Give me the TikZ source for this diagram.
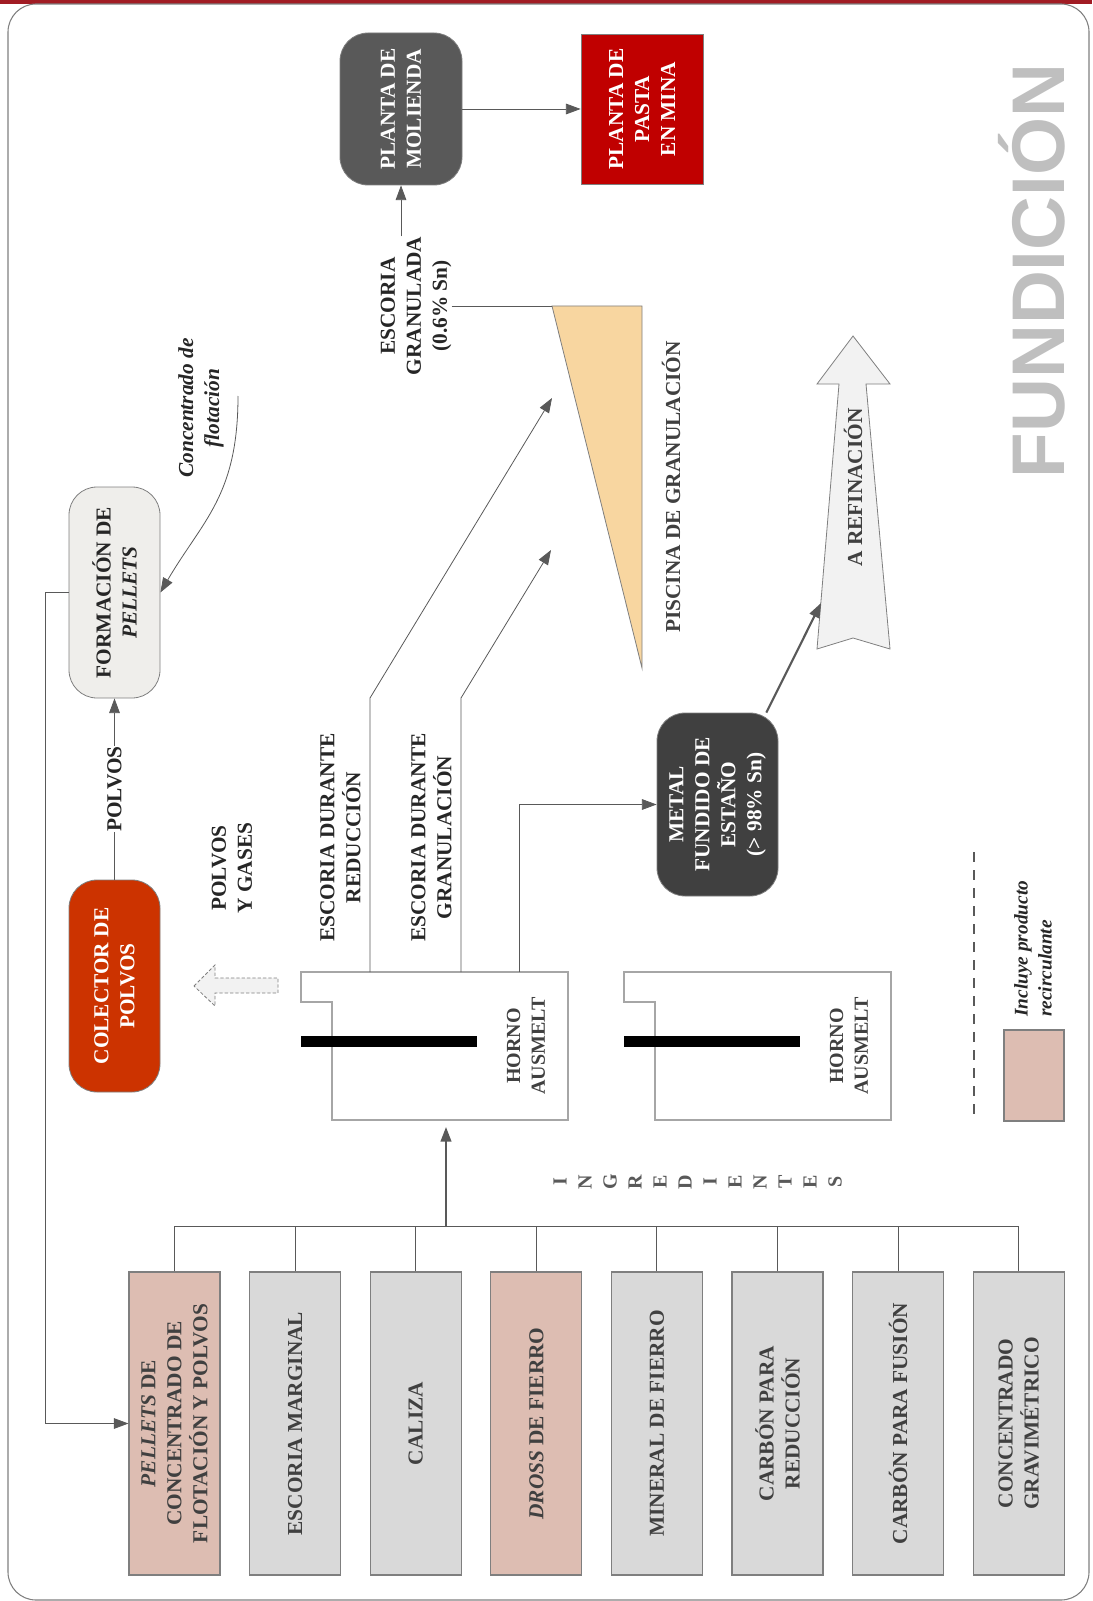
\documentclass[tikz,border=0pt]{standalone}
\usepackage{fontspec}
\setmainfont{Liberation Serif}
\newfontfamily\titlefont{Liberation Sans}
\usepackage{tikz}
\usetikzlibrary{arrows.meta}

\definecolor{linegray}{HTML}{595959}
\definecolor{boxgray}{HTML}{7F7F7F}
\definecolor{bandred}{HTML}{A11C24}
\definecolor{molgray}{HTML}{595959}
\definecolor{pastared}{HTML}{C00000}
\definecolor{metalgray}{HTML}{404040}
\definecolor{colectorred}{HTML}{CC3300}
\definecolor{pelletfill}{HTML}{EFEEEB}
\definecolor{poolfill}{HTML}{F8D6A0}
\definecolor{refinfill}{HTML}{F2F2F2}
\definecolor{recpink}{HTML}{DDBDB2}
\definecolor{inggray}{HTML}{D9D9D9}
\definecolor{txtgray}{HTML}{404040}
\definecolor{txtdark}{HTML}{262626}
\definecolor{titlegray}{HTML}{BFBFBF}
\definecolor{hornogray}{HTML}{A6A6A6}

\tikzset{
  txt/.style={font=\fontsize{16}{19.5}\selectfont\bfseries, rotate=90, align=center, inner sep=0pt, text=txtdark},
  procbox/.style={txt, draw=boxgray, line width=0.6pt, rounded corners=21pt, text=white},
  ingbox/.style={txt, draw=boxgray, line width=0.8pt, text=txtgray, minimum width=227.25pt, minimum height=68.25pt},
  arr/.style={draw=linegray, line width=0.6pt, -{Triangle[length=11pt,width=8pt]}},
  bigarr/.style={arr, line width=1.6pt}
}

\begin{document}
\begin{tikzpicture}[x=0.75pt,y=-0.75pt]
\useasboundingbox (0,0) rectangle (1092,1601);
\fill[bandred] (0,0) rectangle (1092,4);
\draw[boxgray, line width=0.8pt, rounded corners=21pt] (8,4) rectangle (1089,1600);

% title
\node[rotate=90, anchor=base, inner sep=0pt, text=titlegray, font=\titlefont\bfseries\fontsize{56}{60}\selectfont] (titulo) at (1064,271) {FUNDICIÓN};

% process boxes
\node[procbox, fill=molgray, minimum width=114pt, minimum height=91.5pt] (molienda) at (401,109) {PLANTA DE\\MOLIENDA};
\node[procbox, fill=pastared, rounded corners=0pt, minimum width=112.5pt, minimum height=91.5pt] (pasta) at (642,109) {PLANTA DE\\PASTA\\EN MINA};
\node[procbox, fill=pelletfill, text=txtdark, minimum width=158.25pt, minimum height=68.25pt] (formacion) at (114.5,592.5) {FORMACIÓN DE\\\textit{PELLETS}};
\node[procbox, fill=colectorred, minimum width=159pt, minimum height=68.25pt] (colector) at (114.5,986) {COLECTOR DE\\POLVOS};
\node[procbox, fill=metalgray, minimum width=137.25pt, minimum height=90.75pt] (metal) at (717.5,804.5) {METAL\\FUNDIDO DE\\ESTAÑO\\(> 98\% Sn)};

% labels
\node[txt] (granulada) at (416,306) {ESCORIA\\GRANULADA\\(0.6\% Sn)};
\node[txt, font=\fontsize{16}{19.5}\selectfont\bfseries\itshape] (flotlbl) at (201,408) {Concentrado de\\flotación};
\node[txt] (gases) at (232,868) {POLVOS\\Y GASES};
\node[txt] (escred) at (340.5,837.5) {ESCORIA DURANTE\\REDUCCIÓN};
\node[txt] (escgran) at (431.5,837.5) {ESCORIA DURANTE\\GRANULACIÓN};
\node[txt, text=txtgray] (piscina) at (671,487) {PISCINA DE GRANULACIÓN};

% granulation pool
\coordinate (poolA) at (552,306);
\filldraw[fill=poolfill, draw=boxgray, line width=0.6pt] (poolA) -- (642,306) -- (642,668) -- cycle;

% to refining
\filldraw[fill=refinfill, draw=boxgray, line width=0.6pt] (853,336) -- (890,384) -- (866,384) -- (890,649) -- (853,638) -- (817,649) -- (839,384) -- (817,384) -- cycle;
\node[txt, text=txtgray] (refinacion) at (853,487.5) {A REFINACIÓN};
\coordinate (refIn) at (821,603);

% furnaces
\foreach \dx/\nm in {0/hornoA,323/hornoB}{
  \draw[hornogray, line width=0.8pt] (301+\dx,972) -- (568+\dx,972) -- (568+\dx,1120) -- (332+\dx,1120) -- (332+\dx,1002) -- (301+\dx,1002) -- cycle;
  \fill[black] (301+\dx,1036) rectangle (477+\dx,1047);
  \node[txt, text=txtgray, font=\fontsize{15}{18.5}\selectfont\bfseries] (\nm) at (526+\dx,1046) {HORNO\\AUSMELT};
}

% gases to collector
\filldraw[fill=refinfill, draw=boxgray, line width=0.6pt, dash pattern=on 2.5pt off 1.5pt] (194,986) -- (215,965) -- (215,978) -- (278,978) -- (278,993) -- (215,993) -- (215,1006) -- cycle;

% ingredients
\foreach \i/\txt/\clr in {1/{\textit{PELLETS} DE\\CONCENTRADO DE\\FLOTACIÓN Y POLVOS}/recpink,
    2/{ESCORIA MARGINAL}/inggray, 3/{CALIZA}/inggray, 4/{\textit{DROSS} DE FIERRO}/recpink,
    5/{MINERAL DE FIERRO}/inggray, 6/{CARBÓN PARA\\REDUCCIÓN}/inggray,
    7/{CARBÓN PARA FUSIÓN}/inggray, 8/{CONCENTRADO\\GRAVIMÉTRICO}/inggray}
  \node[ingbox, fill=\clr] (ing\i) at ({174.5+120.6*(\i-1)},1423.5) {\txt};

\foreach \l [count=\k from 0] in {I,N,G,R,E,D,I,E,N,T,E,S}
  \node[txt, text=linegray, font=\fontsize{15}{18}\selectfont\bfseries] (letra\k) at ({560+25*\k},1182) {\l};

% legend
\draw[linegray, line width=0.8pt, dash pattern=on 7.5pt off 6pt] (974,852) -- (974,1122);
\node[draw=boxgray, line width=0.8pt, fill=recpink, minimum width=45pt, minimum height=68.25pt, inner sep=0pt] (leyenda) at (1034,1075.5) {};
\node[txt, anchor=west, align=left, font=\fontsize{14.5}{18}\selectfont\bfseries\itshape] (leyendatxt) at (1033,1017) {Incluye producto\\recirculante};

% connectors
\coordinate (flot) at (238,396);
\coordinate (redOut) at (370,972);
\coordinate (granOut) at (461,972);
\coordinate (metOut) at (519,972);
\coordinate (redTip) at (552,398);
\coordinate (granTip) at (551,550);
\coordinate (ingBus) at (446,1227);
\coordinate (hornoIn) at (446,1127);

\draw[arr] (molienda.south) -- (pasta.north);
\draw[arr] (granulada.east -| molienda.west) -- (molienda.west);
\draw[linegray, line width=0.6pt] (granulada.south) -- (poolA);
\draw[arr] (flot) .. controls +(0,100) and +(42,-72) .. (formacion.south);
\draw[arr] (colector.east) -- node[txt, fill=white, inner ysep=1pt, inner xsep=0pt] (polvoslbl) {POLVOS} (formacion.west);
\draw[arr] (formacion.north) -- ++(-23,0) |- (ing1.north);
\draw[arr] (redOut) -- ++(0,-274) -- (redTip);
\draw[arr] (granOut) -- ++(0,-274) -- (granTip);
\draw[arr] (metOut) |- (metal.north);
\draw[bigarr] (metal.-28) -- (refIn);

\draw[linegray, line width=0.8pt] (ing1.east) -- ++(0,-45) -| (ing8.east);
\foreach \i in {2,...,7}
  \draw[linegray, line width=0.8pt] (ing\i.east) -- ++(0,-45);
\draw[bigarr] (ingBus) -- (hornoIn);

\end{tikzpicture}
\end{document}
